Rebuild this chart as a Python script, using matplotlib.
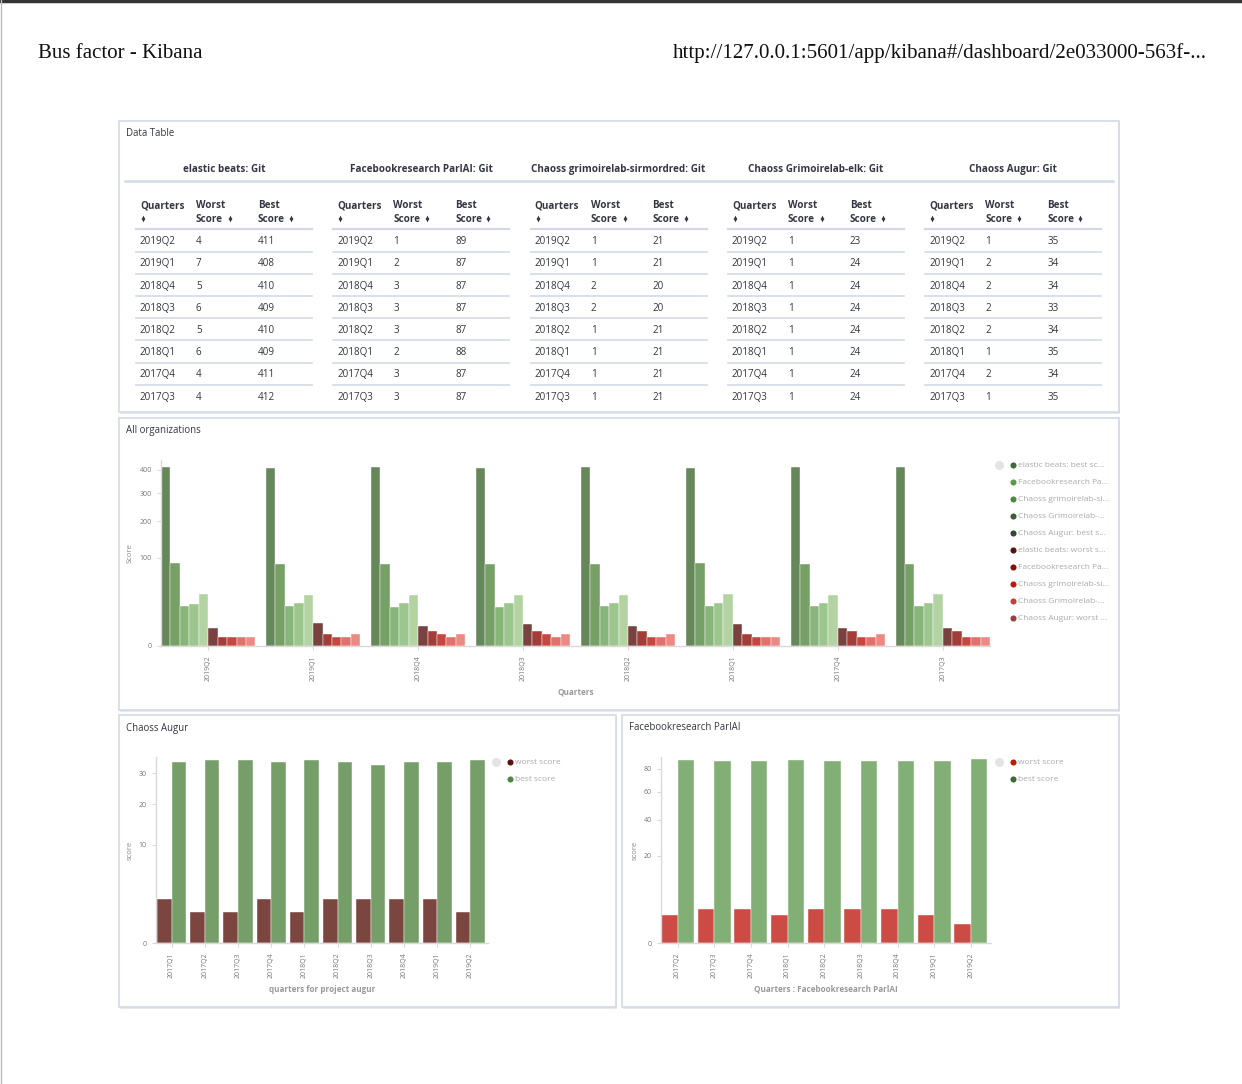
import numpy as np
import matplotlib
matplotlib.use('Agg')
import matplotlib.pyplot as plt
from matplotlib.patches import Rectangle

# ---- data ----
quarters_table = ['2019Q2', '2019Q1', '2018Q4', '2018Q3', '2018Q2', '2018Q1', '2017Q4', '2017Q3']
projects = ['elastic beats', 'Facebookresearch ParlAI', 'Chaoss grimoirelab-sirmordred',
            'Chaoss Grimoirelab-elk', 'Chaoss Augur']

worst_elastic = [4, 7, 5, 6, 5, 6, 4, 4]
best_elastic = [411, 408, 410, 409, 410, 409, 411, 412]
worst_fb = [1, 2, 3, 3, 3, 2, 3, 3]
best_fb = [89, 87, 87, 87, 87, 88, 87, 87]
worst_sir = [1, 1, 2, 2, 1, 1, 1, 1]
best_sir = [21, 21, 20, 20, 21, 21, 21, 21]
worst_elk = [1, 1, 1, 1, 1, 1, 1, 1]
best_elk = [23, 24, 24, 24, 24, 24, 24, 24]
worst_augur = [1, 2, 2, 2, 2, 1, 2, 1]
best_augur = [35, 34, 34, 33, 34, 35, 34, 35]

legend_all = ['elastic beats: best sc...', 'Facebookresearch Pa...', 'Chaoss grimoirelab-si...',
              'Chaoss Grimoirelab-...', 'Chaoss Augur: best s...', 'elastic beats: worst s...',
              'Facebookresearch Pa...', 'Chaoss grimoirelab-si...', 'Chaoss Grimoirelab-...',
              'Chaoss Augur: worst ...']

# Chaoss Augur chart
augur_quarters = ['2017Q1', '2017Q2', '2017Q3', '2017Q4', '2018Q1', '2018Q2', '2018Q3', '2018Q4', '2019Q1', '2019Q2']
augur_worst = [2, 1, 1, 2, 1, 2, 2, 2, 2, 1]
augur_best = [34, 35, 35, 34, 35, 34, 33, 34, 34, 35]

# Facebookresearch ParlAI chart
fb_quarters = ['2017Q2', '2017Q3', '2017Q4', '2018Q1', '2018Q2', '2018Q3', '2018Q4', '2019Q1', '2019Q2']
fb_worst = [2, 3, 3, 2, 3, 3, 3, 2, 1]
fb_best = [88, 87, 87, 88, 87, 87, 87, 87, 89]

# ---- styles ----
W, H = 1242, 1084
FONT = 'Open Sans'
TXT = '#343741'
AXC = '#D9D9D9'
TICKC = '#777777'
TS = 7.1  # table font size
bar_colors = ['#66875A', '#76A066', '#88B57A', '#9DC58E', '#B3D3A3',
              '#7A423E', '#A33D38', '#C94640', '#E2706B', '#EE8882']
dot_colors = ['#3E6B35', '#5A9A4B', '#4E8A40', '#3E5E38', '#2F4A2C',
              '#58140C', '#890F02', '#C4160A', '#C0433A', '#99403C']

fig = plt.figure(figsize=(W / 100, H / 100), dpi=100)
fig.patch.set_facecolor('white')

# background axes in pixel coordinates
bg = fig.add_axes([0, 0, 1, 1])
bg.set_xlim(0, W)
bg.set_ylim(H, 0)
bg.axis('off')
bg.set_zorder(-5)

# page borders
bg.plot([0, W], [1, 1], color='#333333', lw=2.5)
bg.plot([0.5, 0.5], [0, H], color='#BBBBBB', lw=1)

bg.text(38, 53, 'Bus factor - Kibana', family='Liberation Serif', fontsize=15,
        color='#111111', va='center', ha='left')
bg.text(1207, 53, 'http://127.0.0.1:5601/app/kibana#/dashboard/2e033000-563f-...',
        family='Liberation Serif', fontsize=15.1, color='#111111', va='center', ha='right')

# panels
panels = [(119, 121, 1000, 291, 'Data Table'),
          (119, 418, 1000, 292, 'All organizations'),
          (119, 715, 497, 292, 'Chaoss Augur'),
          (622, 715, 497, 292, 'Facebookresearch ParlAI')]
for px, py, pw, ph, title in panels:
    bg.add_patch(Rectangle((px + 1, py + 1.5), pw, ph, facecolor='#E6E9EF', edgecolor='none'))
    bg.add_patch(Rectangle((px, py), pw, ph, facecolor='white', edgecolor='#D3DAE6', lw=1.2))
    bg.text(px + 7, py + 13, title, family=FONT, fontsize=6.9, color=TXT, va='center')


def sort_icon(x, y):
    bg.plot([x], [y - 1.8], marker='^', ms=2.7, color=TXT, mec='none')
    bg.plot([x], [y + 1.8], marker='v', ms=2.7, color=TXT, mec='none')


# ---- data table ----
worst_all = [worst_elastic, worst_fb, worst_sir, worst_elk, worst_augur]
best_all = [best_elastic, best_fb, best_sir, best_elk, best_augur]
bg.plot([125, 1113], [181, 181], color='#D3DAE6', lw=1.8)
for k, name in enumerate(projects):
    x0 = 140 + 197.3 * k
    bg.text(x0 + 84, 169.5, name + ': Git', family=FONT, fontsize=TS, weight='bold',
            color=TXT, ha='center', va='center')
    bg.text(x0, 205.5, 'Quarters', family=FONT, fontsize=TS, weight='bold', color=TXT, va='center')
    sort_icon(x0 + 3, 218.5)
    bg.text(x0 + 56, 205.5, 'Worst', family=FONT, fontsize=TS, weight='bold', color=TXT, va='center')
    bg.text(x0 + 56, 219.5, 'Score', family=FONT, fontsize=TS, weight='bold', color=TXT, va='center')
    sort_icon(x0 + 90, 218.5)
    bg.text(x0 + 118, 205.5, 'Best', family=FONT, fontsize=TS, weight='bold', color=TXT, va='center')
    bg.text(x0 + 118, 219.5, 'Score', family=FONT, fontsize=TS, weight='bold', color=TXT, va='center')
    sort_icon(x0 + 151, 218.5)
    bg.plot([x0 - 4, x0 + 172], [229, 229], color='#D3DAE6', lw=1.6)
    for r, q in enumerate(quarters_table):
        yy = 240.5 + 22.2 * r
        bg.text(x0, yy + 1.2, q, family=FONT, fontsize=TS, color=TXT, va='center')
        bg.text(x0 + 56, yy + 1.2, str(worst_all[k][r]), family=FONT, fontsize=TS, color=TXT, va='center')
        bg.text(x0 + 118, yy + 1.2, str(best_all[k][r]), family=FONT, fontsize=TS, color=TXT, va='center')
        if r < len(quarters_table) - 1:
            bg.plot([x0 - 4, x0 + 172], [yy + 11, yy + 11], color='#D3DAE6', lw=1.2)


def add_ax(left, top, right, bottom):
    return fig.add_axes([left / W, 1 - bottom / H, (right - left) / W, (bottom - top) / H])


def style_ax(ax, ylabel, xlabel, yticks):
    ax.set_yscale('function', functions=(lambda v: np.sqrt(np.clip(v, 0, None)), lambda v: v ** 2))
    for s in ['top', 'right']:
        ax.spines[s].set_visible(False)
    for s in ['left', 'bottom']:
        ax.spines[s].set_color(AXC)
        ax.spines[s].set_linewidth(1)
    ax.set_yticks(yticks)
    ax.set_yticklabels([str(t) for t in yticks])
    ax.tick_params(axis='both', colors=AXC, labelcolor=TICKC, labelsize=5.0, length=3, width=0.8)
    ax.tick_params(axis='x', labelrotation=90)
    ax.minorticks_off()
    for lab in ax.get_xticklabels() + ax.get_yticklabels():
        lab.set_family(FONT)
    ax.set_ylabel(ylabel, family=FONT, fontsize=5.6, color='#8A8A8A', labelpad=4)
    ax.set_xlabel(xlabel, family=FONT, fontsize=5.9, color='#999999', weight='bold', labelpad=5)


def legend(x, y, labels, colors, step=17):
    bg.plot([x - 14], [y], marker='o', ms=6.5, color='#E4E4E4', mec='none')
    for i, (lab, c) in enumerate(zip(labels, colors)):
        bg.plot([x], [y + step * i], marker='o', ms=4.4, color=c, mec='none')
        bg.text(x + 5, y + step * i + 0.8, lab, family=FONT, fontsize=6.0, color='#AAAAAA', va='center')


# ---- all organizations ----
ax1 = add_ax(161, 460, 990, 646)
series = [best_elastic, best_fb, best_sir, best_elk, best_augur,
          worst_elastic, worst_fb, worst_sir, worst_elk, worst_augur]
xpos = np.arange(len(quarters_table))
bw = 0.09
for j, vals in enumerate(series):
    ax1.bar(xpos - 0.45 + bw * j + bw / 2, vals, width=bw, color=bar_colors[j],
            edgecolor='white', linewidth=0.3)
ax1.set_xlim(-0.45, len(quarters_table) - 0.55)
ax1.set_ylim(0, 445)
ax1.set_xticks(xpos)
ax1.set_xticklabels(quarters_table)
style_ax(ax1, 'Score', 'Quarters', [0, 100, 200, 300, 400])
legend(1013, 465, legend_all, dot_colors)

# ---- Chaoss Augur ----
ax2 = add_ax(156, 757, 488, 943)
xa = np.arange(len(augur_quarters))
ax2.bar(xa - 0.22, augur_worst, width=0.44, color='#7B4540', edgecolor='white', linewidth=0.3)
ax2.bar(xa + 0.22, augur_best, width=0.44, color='#769E69', edgecolor='white', linewidth=0.3)
ax2.set_xlim(-0.47, len(augur_quarters) - 0.47)
ax2.set_ylim(0, 36)
ax2.set_xticks(xa)
ax2.set_xticklabels(augur_quarters)
style_ax(ax2, 'score', 'quarters for project augur', [0, 10, 20, 30])
legend(510, 762, ['worst score', 'best score'], ['#58140C', '#508642'])

# ---- Facebookresearch ParlAI ----
ax3 = add_ax(661, 757, 991, 943)
xf = np.arange(len(fb_quarters))
ax3.bar(xf - 0.225, fb_worst, width=0.45, color='#CC4B45', edgecolor='white', linewidth=0.3)
ax3.bar(xf + 0.225, fb_best, width=0.45, color='#82AF75', edgecolor='white', linewidth=0.3)
ax3.set_xlim(-0.45, len(fb_quarters) - 0.45)
ax3.set_ylim(0, 91)
ax3.set_xticks(xf)
ax3.set_xticklabels(fb_quarters)
style_ax(ax3, 'score', 'Quarters : Facebookresearch ParlAI', [0, 20, 40, 60, 80])
legend(1013, 762, ['worst score', 'best score'], ['#BF1B00', '#3F6833'])

fig.savefig('out.png', dpi=100, facecolor='white')
